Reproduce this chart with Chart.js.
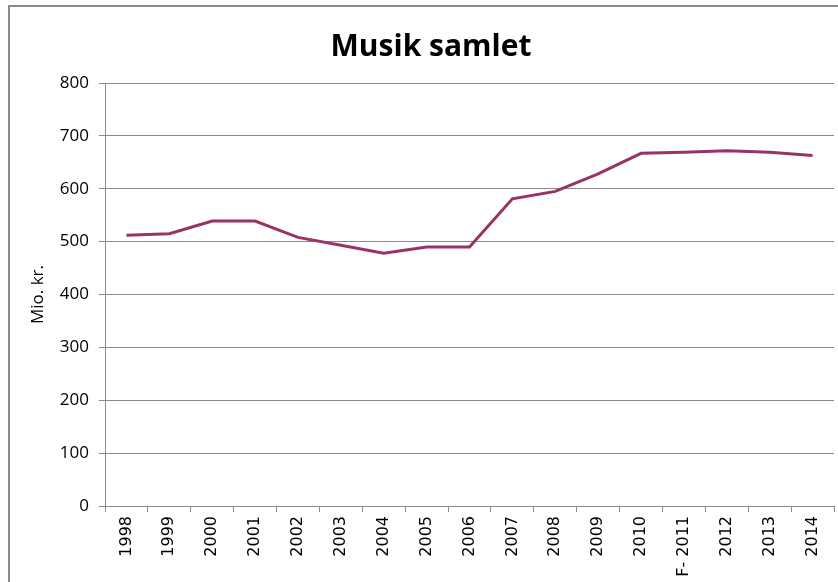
<!DOCTYPE html>
<html lang="da">
<head>
    <meta charset="UTF-8">
    <title>Musik samlet</title>
    <style>
        body { margin: 0; background: #fff; overflow: hidden; }
        .frame { position: absolute; left: 8px; top: 5px; width: 1000px; height: 1000px; border: 2px solid #8a8a8a; }
        .wrap { position: absolute; left: 0; top: 0; width: 838px; height: 582px; }
    </style>
    <script src="https://cdn.jsdelivr.net/npm/chart.js"></script>
</head>
<body>
    <div class="frame"></div>
    <div class="wrap"><canvas id="chart" width="838" height="582"></canvas></div>
    <script>
        // data
        const years = ["1998", "1999", "2000", "2001", "2002", "2003", "2004", "2005", "2006",
                       "2007", "2008", "2009", "2010", "F- 2011", "2012", "2013", "2014"];
        const musik = [512, 515, 539, 539, 508, 493, 478, 490, 490,
                       581, 595, 628, 667, 669, 672, 669, 663];
        const yMin = 0, yMax = 800, yStep = 100;

        const ctx = document.getElementById("chart").getContext("2d");
        new Chart(ctx, {
            type: 'line',
            data: {
                labels: years,
                datasets: [{
                    label: 'Musik samlet',
                    data: musik,
                    borderColor: '#993366',
                    borderWidth: 3,
                    pointRadius: 0,
                    tension: 0,
                    fill: false
                }]
            },
            options: {
                responsive: false,
                animation: false,
                layout: { padding: { left: 28, right: 4, top: 0, bottom: 0 } },
                plugins: {
                    legend: { display: false },
                    tooltip: { enabled: false },
                    title: {
                        display: true,
                        text: 'Musik samlet',
                        color: '#000',
                        font: { family: 'Open Sans', size: 30, weight: 'bold', lineHeight: 1.2 },
                        padding: { top: 29, bottom: 18 }
                    }
                },
                scales: {
                    x: {
                        offset: true,
                        grid: { offset: true, drawOnChartArea: false, drawTicks: true, tickLength: 6, color: '#8a8a8a' },
                        border: { color: '#8a8a8a', width: 1 },
                        ticks: {
                            minRotation: 90, maxRotation: 90, autoSkip: false, padding: 4,
                            color: '#000',
                            font: { family: 'DejaVu Sans', size: 16 }
                        },
                        afterFit: s => { s.height = 76; }
                    },
                    y: {
                        min: yMin, max: yMax,
                        grid: { color: '#8a8a8a', tickLength: 6 },
                        border: { color: '#8a8a8a', width: 1 },
                        ticks: {
                            stepSize: yStep, padding: 10, color: '#000',
                            font: { family: 'Open Sans', size: 17 }
                        },
                        title: {
                            display: true, text: 'Mio. kr.', color: '#000',
                            font: { family: 'Open Sans', size: 17 },
                            padding: 0
                        },
                        afterFit: s => { s.width = 77; }
                    }
                }
            }
        });
    </script>
</body>
</html>
